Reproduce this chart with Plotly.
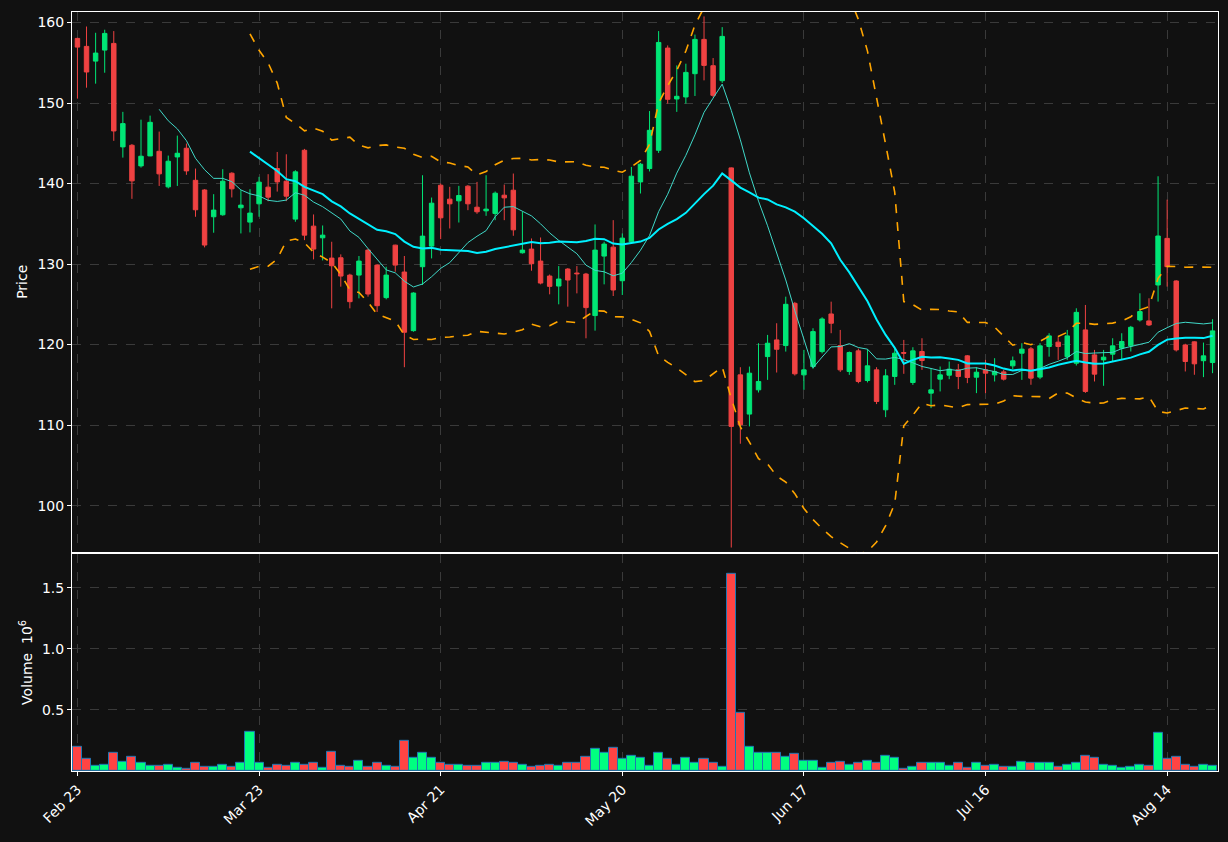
import pandas as pd
import plotly.graph_objects as go
from plotly.subplots import make_subplots

opens = [158.02,157.03,155.2,156.57,157.4,144.55,144.75,142.19,143.43,144.0,139.59,143.3,144.38,140.4,139.2,135.87,136.12,141.28,136.99,135.21,137.48,139.55,
141.86,140.29,135.58,144.13,134.71,133.26,130.74,130.78,128.63,128.63,131.73,129.87,125.83,132.35,129.01,121.73,129.67,132.23,139.79,138.06,137.85,
139.67,137.06,136.61,136.28,138.55,139.17,131.4,131.86,130.37,128.51,127.27,129.38,128.88,128.76,123.6,130.99,132.1,127.93,132.77,140.2,141.86,
144.13,156.82,150.5,150.75,153.64,157.9,154.63,152.77,141.94,116.24,111.37,114.38,118.51,120.58,119.88,125.12,116.24,117.27,119.13,123.8,
119.88,116.66,119.22,115.54,116.86,111.9,116.04,119.01,115.29,119.14,113.97,115.71,116.2,116.86,118.6,115.95,116.86,116.24,116.61,117.36,118.93,
119.47,115.96,119.76,120.3,118.5,117.69,121.82,118.72,118.1,118.81,119.55,119.84,123.06,122.94,127.4,133.19,127.9,119.96,120.34,118.0,117.77]
highs = [158.1,159.5,158.72,159.1,158.93,148.9,144.9,147.93,148.43,146.45,143.47,145.95,144.96,141.86,139.3,138.68,141.78,141.4,139.18,139.3,140.83,141.16,
143.92,143.63,141.65,144.3,136.16,134.79,132.77,131.2,128.8,131.0,131.9,130.0,129.67,132.4,131.0,126.5,141.03,138.26,140.0,139.59,139.71,
139.8,140.2,141.03,139.01,139.87,141.24,136.49,133.18,133.3,128.7,129.75,129.5,129.75,128.9,134.92,132.77,135.45,133.8,142.06,142.56,149.0,
158.93,157.15,154.67,154.88,158.5,160.75,155.58,159.42,142.0,117.19,117.27,120.17,121.2,122.65,125.95,125.3,119.34,122.03,123.39,125.33,
121.82,119.14,119.5,119.42,117.19,116.95,119.55,120.58,119.67,120.79,117.07,117.28,117.9,117.6,118.7,117.19,118.1,118.31,116.86,118.52,120.17,
119.7,120.17,121.41,120.91,121.82,124.51,124.92,119.34,119.34,120.79,121.41,122.32,126.37,125.75,140.9,138.0,128.0,120.1,120.4,120.25,123.15]
lows = [150.54,151.9,152.4,153.76,145.3,143.22,138.1,141.98,143.4,139.7,139.4,139.7,141.08,135.87,132.07,133.89,136.0,138.27,133.8,133.93,135.87,137.8,
139.0,137.81,135.25,132.97,130.58,130.45,124.5,127.19,124.5,125.74,125.95,124.05,125.62,129.05,117.19,121.6,127.4,130.7,133.1,134.42,135.16,
136.69,136.24,135.99,135.45,135.45,133.51,131.3,129.17,127.48,126.24,125.0,124.71,126.36,120.78,121.73,127.48,126.03,126.16,132.5,138.76,141.5,
143.8,149.92,148.9,149.92,150.87,152.81,150.7,152.5,94.8,107.69,109.84,114.05,115.62,116.53,119.13,116.16,114.38,117.0,118.9,121.41,
116.6,116.24,115.2,115.3,112.61,110.99,115.0,116.37,115.0,116.86,112.11,114.18,115.7,114.47,115.21,113.97,113.97,115.42,115.54,116.95,115.62,
115.01,115.71,118.5,118.1,118.1,117.4,114.0,115.42,114.88,117.9,118.1,119.14,122.86,122.3,125.34,127.2,119.14,116.66,116.25,115.96,116.45]
closes = [156.94,153.85,156.2,158.64,146.53,147.44,140.33,143.39,147.6,141.2,142.77,143.76,141.57,136.74,132.36,136.7,140.29,139.34,137.32,136.33,140.17,138.31,
140.2,138.43,141.45,133.59,131.86,133.59,129.79,128.51,125.33,130.37,126.28,124.83,128.63,129.87,121.53,126.4,133.47,137.56,135.74,137.48,138.51,
137.48,136.49,136.82,138.8,138.22,134.25,131.73,130.04,127.64,127.23,128.14,128.02,128.8,124.59,131.73,132.48,126.78,133.22,140.91,142.4,146.61,
157.52,150.46,150.83,153.8,157.9,154.67,150.95,158.27,109.84,110.04,116.45,115.42,120.17,119.42,125.0,116.37,116.86,121.61,123.18,122.65,
116.86,119.01,115.42,117.36,112.94,116.12,118.93,118.93,119.22,118.02,114.38,116.24,116.95,116.04,115.91,116.57,116.45,116.66,115.71,117.98,119.43,
115.83,119.84,121.08,119.76,121.08,124.0,114.18,116.33,118.44,119.84,120.38,122.15,124.1,122.44,133.48,129.67,119.34,117.9,117.61,118.6,121.7]
volumes = [0.20,0.096,0.044,0.052,0.145,0.079,0.12,0.071,0.044,0.044,0.052,0.027,0.019,0.063,0.036,0.036,0.052,0.036,0.063,0.325,0.071,0.027,
0.052,0.044,0.063,0.052,0.063,0.027,0.161,0.044,0.036,0.087,0.036,0.063,0.044,0.036,0.251,0.109,0.153,0.109,0.071,0.052,0.052,
0.044,0.044,0.063,0.071,0.079,0.063,0.052,0.036,0.044,0.052,0.044,0.071,0.071,0.12,0.183,0.153,0.194,0.101,0.128,0.112,0.044,
0.153,0.096,0.052,0.104,0.063,0.096,0.071,0.036,1.62,0.48,0.20,0.145,0.145,0.145,0.12,0.137,0.087,0.087,0.027,0.063,
0.079,0.052,0.063,0.087,0.063,0.128,0.104,0.019,0.036,0.063,0.071,0.071,0.044,0.071,0.027,0.071,0.044,0.052,0.036,0.036,0.079,
0.063,0.071,0.071,0.036,0.052,0.071,0.128,0.104,0.052,0.044,0.027,0.036,0.052,0.044,0.309,0.096,0.12,0.052,0.036,0.052,0.044]
tick_idx = [0, 20, 40, 60, 80, 100, 120]
tick_labels = ["Feb 23", "Mar 23", "Apr 21", "May 20", "Jun 17", "Jul 16", "Aug 14"]

x = list(range(len(closes)))
c = pd.Series(closes)
ma10 = c.rolling(10).mean()
ma20 = c.rolling(20).mean()
sd20 = c.rolling(20).std(ddof=0)
upper = ma20 + 2 * sd20
lower = ma20 - 2 * sd20

GREEN, RED = "#00e676", "#ef4242"
BG = "#111111"

fig = make_subplots(rows=2, cols=1, shared_xaxes=True, vertical_spacing=0.003,
                    row_heights=[0.713, 0.287])
fig.add_trace(go.Candlestick(x=x, open=opens, high=highs, low=lows, close=closes,
                             increasing=dict(line=dict(color=GREEN, width=1), fillcolor=GREEN),
                             decreasing=dict(line=dict(color=RED, width=1), fillcolor=RED),
                             whiskerwidth=0, showlegend=False), row=1, col=1)
fig.add_trace(go.Scatter(x=x, y=ma10, mode="lines", line=dict(color="#40d8c8", width=1),
                         showlegend=False), row=1, col=1)
fig.add_trace(go.Scatter(x=x, y=ma20, mode="lines", line=dict(color="#00f0ff", width=2),
                         showlegend=False), row=1, col=1)
for band in (upper, lower):
    fig.add_trace(go.Scatter(x=x, y=band, mode="lines",
                             line=dict(color="#ffa500", width=1.6, dash="dash"),
                             showlegend=False), row=1, col=1)
vcolors = ["#00ff80" if cl >= op else "#ff4444" for op, cl in zip(opens, closes)]
fig.add_trace(go.Bar(x=x, y=volumes, marker=dict(color=vcolors, line=dict(color="#1f77b4", width=1)),
                     width=1.0, showlegend=False), row=2, col=1)

axis_common = dict(showline=True, linecolor="white", linewidth=1, mirror=True,
                   showgrid=True, gridcolor="#3a3a3a", griddash="dash", gridwidth=1,
                   zeroline=False, tickfont=dict(color="white", size=14),
                   ticks="outside", tickcolor="white", ticklen=4)
fig.update_xaxes(**axis_common, range=[-0.6, 125.6], tickvals=tick_idx, ticktext=tick_labels,
                 rangeslider_visible=False)
fig.update_xaxes(tickangle=-45, row=2, col=1)
fig.update_yaxes(**axis_common)
fig.update_yaxes(range=[94.3, 161.3], tickvals=[100, 110, 120, 130, 140, 150, 160],
                 title=dict(text="Price", font=dict(color="white", size=14), standoff=6), row=1, col=1)
fig.update_yaxes(range=[0, 1.78], tickvals=[0.5, 1.0, 1.5], ticktext=["0.5", "1.0", "1.5"],
                 title=dict(text="Volume  10<sup>6</sup>", font=dict(color="white", size=14), standoff=6),
                 row=2, col=1)
fig.update_layout(width=1228, height=842, paper_bgcolor=BG, plot_bgcolor=BG,
                  margin=dict(l=72, r=10, t=12, b=71), bargap=0,
                  font=dict(family="DejaVu Sans", color="white"))
fig.write_html("out.html", config={"displayModeBar": False},
               post_script="document.body.style.margin='0';document.body.style.background='#111111';")
